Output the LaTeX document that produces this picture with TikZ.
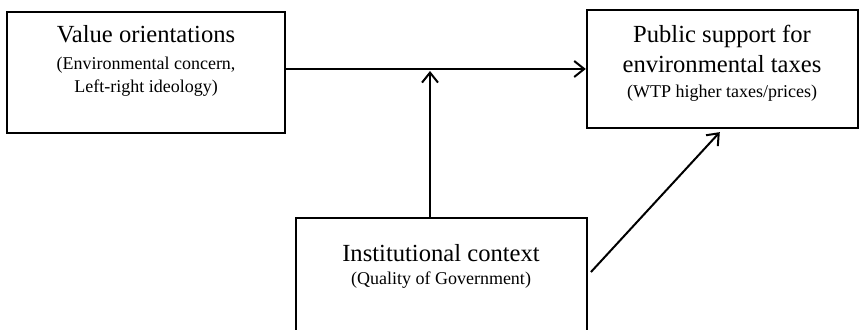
\documentclass[tikz,border=0pt]{standalone}
\usepackage{fontspec}
\setmainfont{Liberation Serif}
\usetikzlibrary{arrows.meta,fit}

\begin{document}
\begin{tikzpicture}[x=0.5pt, y=-0.5pt,
    box/.style={draw, line width=1.2pt, inner sep=0pt},
    head/.style={font=\fontsize{12.3}{14}\selectfont, inner sep=0pt, anchor=base},
    sub/.style={font=\fontsize{9}{11}\selectfont, inner sep=0pt, anchor=base},
    link/.style={line width=1pt, -{Straight Barb[length=5pt, width=8pt, line width=1pt]}}]
    % Frame
    \useasboundingbox (0,0) rectangle (861,330);
    \clip (0,0) rectangle (861,330);

    % Boxes
    \node[box, fit={(7,12) (285,133)}] (values) {};
    \node[box, fit={(587,10) (858,128)}] (support) {};
    \node[box, fit={(296,218) (587,332)}] (context) {};

    % Value orientations
    \node[head] (values-t) at (146,43) {Value orientations};
    \node[sub] (values-s1) at (146,70) {(Environmental concern,};
    \node[sub] (values-s2) at (146,93) {Left-right ideology)};

    % Public support
    \node[head] (support-t1) at (722,43) {Public support for};
    \node[head] (support-t2) at (722,73) {environmental taxes};
    \node[sub] (support-s) at (722,98) {(WTP higher taxes/prices)};

    % Institutional context
    \node[head] (context-t) at (441,262) {Institutional context};
    \node[sub] (context-s) at (441,285) {(Quality of Government)};

    % Arrows
    \coordinate (moderate) at (430,71);
    \draw[link] (values.east |- support.west) -- (support.west);
    \draw[link] (context.north -| moderate) -- (moderate);
    \draw[link, shorten <=2pt, shorten >=2pt] (context.east) -- (support.south);

\end{tikzpicture}
\end{document}
